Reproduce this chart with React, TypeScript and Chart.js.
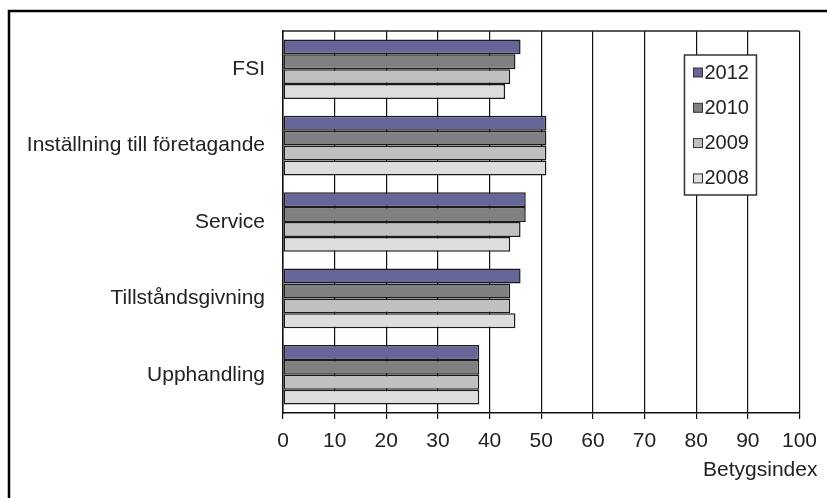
import React, { useEffect, useRef } from "react";
import { Chart, registerables } from "chart.js";

Chart.register(...registerables);

const categories = [
  "FSI",
  "Inställning till företagande",
  "Service",
  "Tillståndsgivning",
  "Upphandling",
];
const seriesLabels = ["2012", "2010", "2009", "2008"];
const values2012 = [46, 51, 47, 46, 38];
const values2010 = [45, 51, 47, 44, 38];
const values2009 = [44, 51, 46, 44, 38];
const values2008 = [43, 51, 44, 45, 38];
const seriesColors = ["#666699", "#808080", "#c0c0c0", "#dddddd"];
const xTickValues = [0, 10, 20, 30, 40, 50, 60, 70, 80, 90, 100];
const axisTitle = "Betygsindex";

const FONT = "'Liberation Sans', Arial, sans-serif";

const framePlugin = {
  id: "framePlugin",
  beforeDraw(chart: any) {
    const ctx = chart.ctx;
    ctx.save();
    ctx.fillStyle = "#ffffff";
    ctx.fillRect(0, 0, chart.width, chart.height);
    ctx.strokeStyle = "#000000";
    ctx.lineWidth = 2.5;
    ctx.beginPath();
    ctx.moveTo(9, chart.height + 2);
    ctx.lineTo(9, 11);
    ctx.lineTo(chart.width + 2, 11);
    ctx.stroke();
    ctx.restore();
  },
  afterDatasetsDraw(chart: any) {
    const ctx = chart.ctx;
    const a = chart.chartArea;
    ctx.save();
    ctx.strokeStyle = "#222";
    ctx.lineWidth = 1.5;
    ctx.beginPath();
    ctx.moveTo(a.left, a.top);
    ctx.lineTo(a.right, a.top);
    ctx.stroke();

    const bx = a.right - 115;
    const by = a.top + 24;
    const bw = 72;
    const bh = 140;
    ctx.fillStyle = "#ffffff";
    ctx.fillRect(bx, by, bw, bh);
    ctx.strokeStyle = "#333";
    ctx.lineWidth = 1.5;
    ctx.strokeRect(bx, by, bw, bh);
    ctx.font = `20px ${FONT}`;
    ctx.textBaseline = "middle";
    ctx.textAlign = "left";
    chart.data.datasets.forEach((ds: any, i: number) => {
      const cy = by + 17 + i * 35.3;
      ctx.fillStyle = ds.backgroundColor;
      ctx.fillRect(bx + 9, cy - 4, 9, 9);
      ctx.strokeStyle = "#333";
      ctx.lineWidth = 1;
      ctx.strokeRect(bx + 9, cy - 4, 9, 9);
      ctx.fillStyle = "#222";
      ctx.fillText(ds.label, bx + 20, cy + 1);
    });

    ctx.font = `21px ${FONT}`;
    ctx.textAlign = "right";
    ctx.textBaseline = "middle";
    ctx.fillStyle = "#222";
    ctx.fillText(axisTitle, a.right + 18, a.bottom + 57);
    ctx.restore();
  },
};

export default function App() {
  const canvasRef = useRef<HTMLCanvasElement | null>(null);

  useEffect(() => {
    const canvas = canvasRef.current;
    if (!canvas) return;
    const allValues = [values2012, values2010, values2009, values2008];
    const chart = new Chart(canvas, {
      type: "bar",
      data: {
        labels: categories,
        datasets: seriesLabels.map((label, i) => ({
          label,
          data: allValues[i],
          backgroundColor: seriesColors[i],
          borderColor: "#1a1a1a",
          borderWidth: 1.5,
          borderSkipped: false,
          categoryPercentage: 0.78,
          barPercentage: 1.0,
        })),
      },
      options: {
        indexAxis: "y",
        animation: false,
        responsive: false,
        maintainAspectRatio: false,
        devicePixelRatio: 1,
        layout: { padding: { top: 31, right: 27, left: 0, bottom: 0 } },
        plugins: {
          legend: { display: false },
          tooltip: { enabled: false },
          title: { display: false },
        },
        scales: {
          x: {
            type: "linear",
            min: 0,
            max: 100,
            afterBuildTicks(scale: any) {
              scale.ticks = xTickValues.map((v) => ({ value: v }));
            },
            afterFit(scale: any) {
              scale.height = 85;
            },
            ticks: {
              stepSize: 10,
              color: "#222",
              padding: 10,
              font: { family: FONT, size: 21 },
              maxRotation: 0,
            },
            grid: {
              color: "#111",
              lineWidth: 1.2,
              drawTicks: true,
              tickLength: 6,
              tickColor: "#111",
            },
            border: { display: true, color: "#111", width: 1.5 },
          },
          y: {
            type: "category",
            afterFit(scale: any) {
              scale.width = 283;
            },
            ticks: {
              color: "#222",
              padding: 18,
              font: { family: FONT, size: 21 },
            },
            grid: { display: false, drawTicks: false },
            border: { display: true, color: "#111", width: 1.5 },
          },
        },
      },
      plugins: [framePlugin],
    });
    return () => chart.destroy();
  }, []);

  return (
    <div style={{ position: "fixed", left: 0, top: 0, width: 827, height: 498, background: "#fff" }}>
      <canvas ref={canvasRef} width={827} height={498} style={{ width: 827, height: 498 }} />
    </div>
  );
}
